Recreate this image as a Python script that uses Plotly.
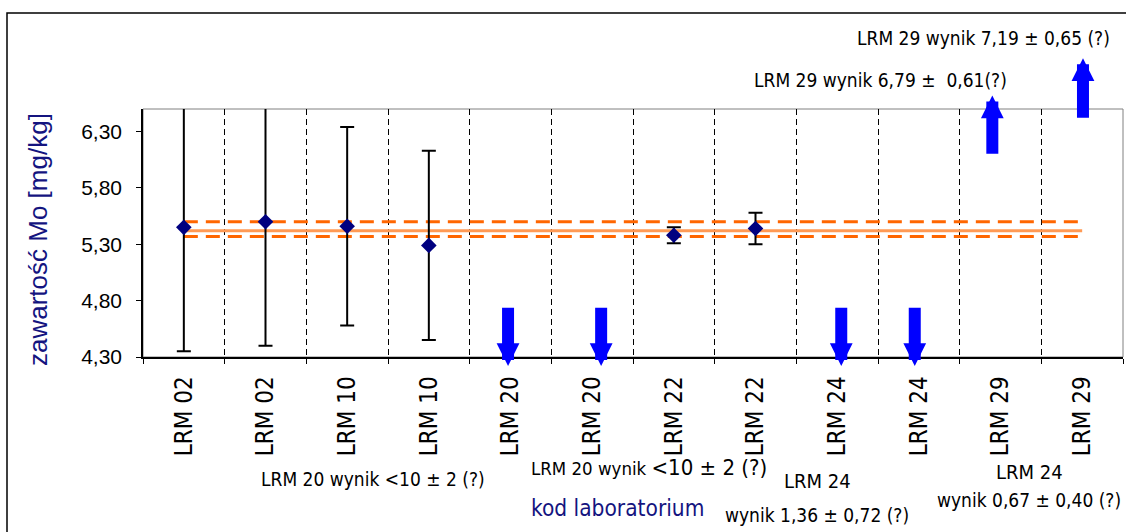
import plotly.graph_objects as go

# ---------------- data ----------------
categories = ["LRM 02", "LRM 02", "LRM 10", "LRM 10", "LRM 20", "LRM 20",
              "LRM 22", "LRM 22", "LRM 24", "LRM 24", "LRM 29", "LRM 29"]
results = [5.45, 5.50, 5.46, 5.29, None, None, 5.38, 5.44, None, None, None, None]
uncertainty = [1.10, 1.10, 0.88, 0.84, None, None, 0.07, 0.14, None, None, None, None]
assigned_value = 5.42
upper_limit = 5.50
lower_limit = 5.37
y_ticks = [4.30, 4.80, 5.30, 5.80, 6.30]

# off-scale results shown as arrows
arrow_idx = [4, 5, 8, 9, 10, 11]
arrow_tail = [4.75, 4.75, 4.75, 4.75, 6.09, 6.41]
arrow_tip = [4.22, 4.22, 4.22, 4.22, 6.62, 6.95]
arrow_shift = [-0.03, 0.11, 0.05, -0.05, -0.10, 0.01]

notes = [
    "LRM 29 wynik 7,19 ± 0,65 (?)",
    "LRM 29 wynik 6,79 ±  0,61(?)",
    "LRM 20 wynik &lt;10 ± 2 (?)",
    "LRM 20 wynik <span style='font-size:22px'>&lt;10 ± 2 (?)</span>",
    "LRM 24",
    "wynik 1,36 ± 0,72 (?)",
    "LRM 24",
    "wynik 0,67 ± 0,40 (?)",
]
# ---------------- layout helpers ----------------
W, H = 1126, 532
L, T, PW, PH = 143, 109, 980, 248


def px(x):
    return (x - L) / PW


def py(y):
    return (T + PH - y) / PH


note_pos = [(983, 38), (880, 80), (373, 479), (649, 467),
            (817, 481), (817, 515), (1029, 472), (1029, 500)]
note_size = [19, 19, 19, 18.5, 20, 19, 20, 19]

NARROW = "DejaVu Sans Condensed, Liberation Sans Narrow, Arial Narrow, Liberation Sans, Arial"
REG = "Liberation Sans, Arial, sans-serif"
NAVY = "#14147f"

n = len(categories)
xi = list(range(n))

fig = go.Figure()

# reference lines
fig.add_trace(go.Scatter(x=[xi[0], xi[-1]], y=[upper_limit, upper_limit], mode="lines",
                         line=dict(color="#FF6600", width=3, dash="14px,8px"),
                         hoverinfo="skip", showlegend=False))
fig.add_trace(go.Scatter(x=[xi[0], xi[-1]], y=[lower_limit, lower_limit], mode="lines",
                         line=dict(color="#FF6600", width=3, dash="14px,8px"),
                         hoverinfo="skip", showlegend=False))
fig.add_trace(go.Scatter(x=[xi[0], xi[-1]], y=[assigned_value, assigned_value], mode="lines",
                         line=dict(color="#FF9A55", width=3),
                         hoverinfo="skip", showlegend=False))

# results with uncertainties
px_x = [i for i, v in enumerate(results) if v is not None]
fig.add_trace(go.Scatter(
    x=px_x, y=[results[i] for i in px_x], mode="markers",
    marker=dict(symbol="diamond", size=12, color="#000080"),
    error_y=dict(type="data", array=[uncertainty[i] for i in px_x],
                 color="black", thickness=2, width=7),
    cliponaxis=False, showlegend=False))

annotations = []
for i, tail, tip, sh in zip(arrow_idx, arrow_tail, arrow_tip, arrow_shift):
    annotations.append(dict(
        x=i + sh, y=tip, ax=i + sh, ay=tail, xref="x", yref="y", axref="x", ayref="y",
        text="", showarrow=True, arrowhead=2, arrowsize=0.38, arrowwidth=12,
        arrowcolor="#0000FF", standoff=0, startstandoff=0))

for txt, (nx, ny), fs in zip(notes, note_pos, note_size):
    annotations.append(dict(
        x=px(nx), y=py(ny), xref="paper", yref="paper", text=txt, showarrow=False,
        xanchor="center", yanchor="middle", font=dict(family=NARROW, size=fs, color="black")))

# axis titles
annotations.append(dict(x=px(38), y=py(240), xref="paper", yref="paper",
                        text="zawartość Mo [mg/kg]", textangle=-90, showarrow=False,
                        xanchor="center", yanchor="middle",
                        font=dict(family=REG, size=26, color=NAVY)))
annotations.append(dict(x=px(617), y=py(508), xref="paper", yref="paper",
                        text="kod laboratorium", showarrow=False,
                        xanchor="center", yanchor="middle",
                        font=dict(family=NARROW, size=22.5, color=NAVY)))

shapes = [
    # outer chart frame
    dict(type="rect", xref="paper", yref="paper", x0=px(7), y0=py(545), x1=px(1140), y1=py(13),
         line=dict(color="black", width=1.5), layer="below"),
    # plot area frame
    dict(type="rect", xref="paper", yref="paper", x0=0, y0=0, x1=1, y1=1,
         line=dict(color="#808080", width=1), layer="below"),
]

fig.update_layout(
    width=W, height=H,
    margin=dict(l=L, r=W - L - PW, t=T, b=H - T - PH),
    paper_bgcolor="white", plot_bgcolor="white",
    font=dict(family=REG, color="black"),
    annotations=annotations, shapes=shapes,
    showlegend=False,
)

fig.update_xaxes(
    range=[-0.5, n - 0.5], tickmode="array", tickvals=xi, ticktext=categories,
    tickangle=-90, ticks="", showgrid=False, zeroline=False,
    tickfont=dict(family=NARROW, size=24, color="black"), ticklabelstandoff=8,
    showline=True, linecolor="black", linewidth=1.5, mirror=False,
    minor=dict(tickmode="linear", tick0=0.5, dtick=1, ticks="outside", ticklen=5,
               tickcolor="black", showgrid=True, gridcolor="black", gridwidth=1,
               griddash="6px,4px"),
)
fig.update_yaxes(
    range=[4.3, 6.5], tickmode="array", tickvals=y_ticks,
    ticktext=[f"{v:.2f}".replace(".", ",") for v in y_ticks],
    ticks="outside", ticklen=5, tickcolor="black", showgrid=False, zeroline=False,
    tickfont=dict(family=REG, size=21, color="black"), ticklabelstandoff=10,
    showline=True, linecolor="black", linewidth=1.5,
)

fig.write_html("out.html", config={"displayModeBar": False},
               post_script="document.body.style.margin='0';")
